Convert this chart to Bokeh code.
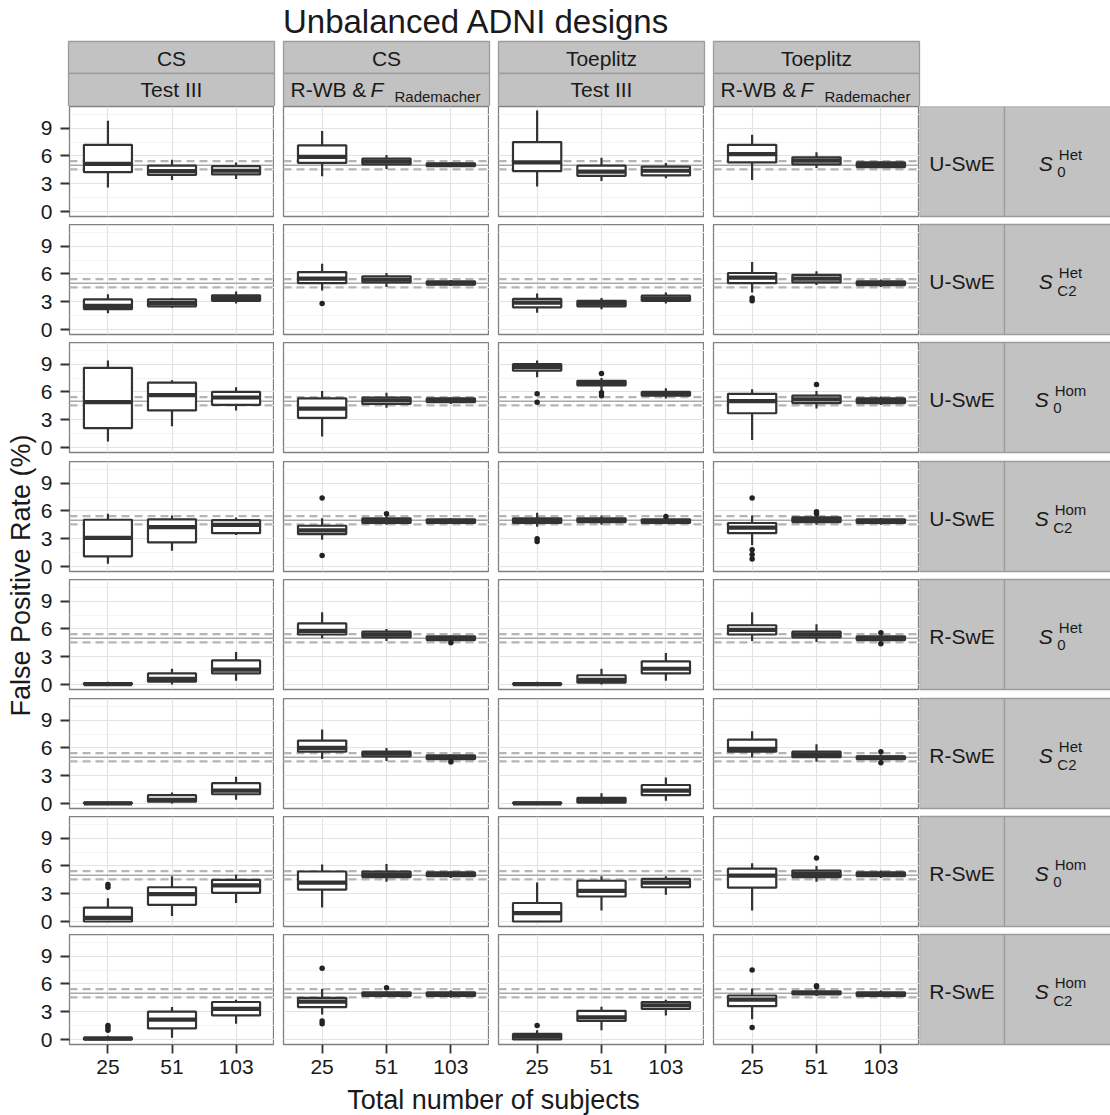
from bokeh.plotting import figure
from bokeh.layouts import row, column
from bokeh.models import (Range1d, FactorRange, ColumnDataSource, Grid, FixedTicker,
                          CategoricalTicker, LinearAxis, CategoricalAxis, Span)
from bokeh.transform import dodge
from bokeh.core.properties import value
from bokeh.embed import file_html
from bokeh.resources import INLINE

# ---------------------------------------------------------------- data
SUBJECTS = ["25", "51", "103"]
COVARIANCE = ["CS", "CS", "Toeplitz", "Toeplitz"]
TEST_MAIN = ["Test III", "R-WB & ", "Test III", "R-WB & "]
TEST_ITALIC = ["", "F", "", "F"]
TEST_SUB = ["", "Rademacher", "", "Rademacher"]
ESTIMATOR = ["U-SwE"] * 4 + ["R-SwE"] * 4
DESIGN_SUB = ["0", "C2", "0", "C2"] * 2
DESIGN_SUP = ["Het", "Het", "Hom", "Hom"] * 2

# one line per facet row; 12 values = 4 facet columns x (25, 51, 103 subjects)
LOWER = [
    [2.6, 3.4, 3.5,   3.8, 4.6, 4.8,   2.7, 3.3, 3.6,   3.4, 4.7, 4.7],
    [1.75, 2.35, 2.8, 4.2, 4.6, 4.7,   1.8, 2.2, 2.8,   4.0, 4.8, 4.6],
    [0.65, 2.3, 4.0,  1.2, 4.3, 4.7,   7.6, 6.1, 5.3,   0.8, 4.2, 4.6],
    [0.3, 1.7, 3.4,   2.9, 4.5, 4.6,   4.3, 4.5, 4.6,   2.3, 4.5, 4.5],
    [0.0, 0.0, 0.4,   5.0, 4.7, 4.7,   0.0, 0.0, 0.4,   4.7, 4.6, 4.6],
    [0.0, 0.0, 0.4,   4.8, 4.6, 4.6,   0.0, 0.0, 0.3,   5.0, 4.5, 4.6],
    [0.0, 0.6, 2.0,   1.5, 4.3, 4.7,   0.0, 1.2, 2.9,   1.2, 4.3, 4.7],
    [0.0, 0.2, 1.7,   2.7, 4.6, 4.5,   0.0, 1.0, 2.6,   2.2, 4.7, 4.6],
]
Q1 = [
    [4.25, 3.95, 4.0, 5.25, 5.1, 4.9,  4.35, 3.85, 3.9, 5.3, 5.1, 4.8],
    [2.2, 2.5, 3.1,   5.0, 5.1, 4.85,  2.4, 2.5, 3.1,   5.0, 5.1, 4.8],
    [2.1, 4.0, 4.6,   3.2, 4.7, 4.9,   8.3, 6.7, 5.6,   3.7, 4.8, 4.8],
    [1.1, 2.6, 3.6,   3.5, 4.7, 4.7,   4.7, 4.8, 4.7,   3.6, 4.8, 4.7],
    [0.0, 0.3, 1.2,   5.4, 5.1, 4.8,   0.0, 0.2, 1.2,   5.4, 5.1, 4.8],
    [0.0, 0.2, 1.0,   5.6, 5.1, 4.8,   0.0, 0.1, 0.9,   5.6, 5.0, 4.8],
    [0.0, 1.8, 3.1,   3.45, 4.8, 4.9,  0.0, 2.7, 3.7,   3.65, 4.8, 4.9],
    [0.0, 1.2, 2.6,   3.5, 4.7, 4.7,   0.0, 2.0, 3.3,   3.6, 4.9, 4.7],
]
MEDIAN = [
    [5.15, 4.35, 4.4, 5.9, 5.4, 5.05,  5.3, 4.3, 4.4,   6.2, 5.5, 5.05],
    [2.55, 2.85, 3.4, 5.5, 5.4, 5.0,   2.9, 2.8, 3.35,  5.6, 5.5, 5.0],
    [4.9, 5.65, 5.4,  4.2, 5.1, 5.1,   8.7, 6.9, 5.8,   5.0, 5.2, 5.1],
    [3.1, 4.25, 4.5,  3.9, 4.95, 4.9,  5.0, 5.0, 4.9,   4.2, 5.1, 4.9],
    [0.05, 0.6, 1.6,  5.8, 5.4, 5.0,   0.03, 0.5, 1.7,  5.9, 5.4, 5.0],
    [0.02, 0.4, 1.4,  6.0, 5.4, 5.0,   0.02, 0.3, 1.4,  5.9, 5.3, 4.95],
    [0.4, 2.95, 3.9,  4.2, 5.1, 5.1,   0.9, 3.3, 4.2,   4.95, 5.15, 5.1],
    [0.1, 2.15, 3.3,  4.1, 4.9, 4.9,   0.3, 2.4, 3.7,   4.3, 5.0, 4.9],
]
Q3 = [
    [7.2, 4.95, 4.9,  7.15, 5.7, 5.2,  7.5, 4.95, 4.85, 7.2, 5.85, 5.3],
    [3.25, 3.25, 3.7, 6.2, 5.75, 5.2,  3.3, 3.1, 3.65,  6.1, 5.9, 5.2],
    [8.6, 7.0, 6.0,   5.3, 5.4, 5.3,   9.0, 7.2, 6.0,   5.8, 5.6, 5.3],
    [5.05, 5.1, 5.0,  4.4, 5.2, 5.1,   5.2, 5.2, 5.1,   4.7, 5.3, 5.1],
    [0.15, 1.2, 2.6,  6.6, 5.7, 5.2,   0.1, 1.0, 2.5,   6.4, 5.7, 5.2],
    [0.1, 0.9, 2.2,   6.8, 5.6, 5.2,   0.1, 0.6, 2.0,   6.9, 5.6, 5.1],
    [1.5, 3.7, 4.5,   5.4, 5.4, 5.3,   2.0, 4.4, 4.6,   5.7, 5.5, 5.3],
    [0.2, 3.0, 4.05,  4.5, 5.1, 5.1,   0.6, 3.1, 4.05,  4.75, 5.2, 5.1],
]
UPPER = [
    [9.8, 5.6, 5.3,   8.7, 6.1, 5.3,   10.9, 5.8, 5.25, 8.3, 6.4, 5.4],
    [3.8, 3.4, 4.1,   7.1, 6.1, 5.35,  3.9, 3.4, 4.0,   7.3, 6.3, 5.4],
    [9.4, 7.25, 6.5,  6.1, 5.9, 5.4,   9.4, 7.5, 6.4,   6.3, 6.1, 5.5],
    [5.7, 5.5, 5.3,   5.2, 5.5, 5.2,   5.8, 5.5, 5.2,   5.5, 5.6, 5.2],
    [0.3, 1.7, 3.5,   7.8, 6.0, 5.3,   0.3, 1.7, 3.4,   7.8, 6.5, 5.3],
    [0.2, 1.2, 2.9,   8.0, 6.0, 5.3,   0.2, 1.1, 2.8,   7.8, 6.4, 5.3],
    [2.5, 4.9, 5.05,  6.15, 6.2, 5.4,  4.2, 4.9, 4.9,   6.3, 6.0, 5.5],
    [0.4, 3.5, 4.3,   5.45, 5.2, 5.3,  1.0, 3.55, 4.3,  5.5, 5.4, 5.3],
]

# outlying simulations: facet row, facet column, number of subjects, rate (%)
OUTLIER_ROW = [1, 1, 1, 2, 2, 2, 2, 2, 2, 3, 3, 3, 3, 3, 3, 3, 3, 3, 3,
               4, 4, 4, 5, 5, 5, 6, 6, 7, 7, 7, 7, 7, 7, 7, 7, 7, 7,
               3, 3, 6, 7, 7]
OUTLIER_COL = [1, 3, 3, 2, 2, 2, 2, 2, 3, 1, 1, 1, 2, 2, 2, 3, 3, 3, 3,
               1, 3, 3, 1, 3, 3, 0, 0, 0, 0, 0, 1, 1, 1, 1, 2, 3, 3,
               3, 3, 3, 3, 3]
OUTLIER_N = ["25", "25", "25", "25", "25", "51", "51", "51", "51", "25", "25", "51",
             "25", "25", "103", "25", "25", "25", "25",
             "103", "103", "103", "103", "103", "103", "25", "25",
             "25", "25", "25", "25", "25", "25", "51", "25", "25", "25",
             "51", "51", "51", "51", "51"]
OUTLIER_VALUE = [2.8, 3.1, 3.4, 5.8, 4.9, 8.0, 5.9, 5.6, 6.8, 7.4, 1.2, 5.7,
                 3.0, 2.7, 5.4, 7.4, 1.8, 1.3, 0.8,
                 4.5, 5.6, 4.4, 4.5, 5.6, 4.4, 4.0, 3.7,
                 1.5, 1.3, 1.0, 7.7, 2.0, 1.7, 5.6, 1.5, 7.5, 1.3,
                 5.9, 5.7, 6.85, 5.8, 5.7]

NOMINAL = 5.0
INTERVAL = (4.55, 5.45)
Y_TICKS = [0, 3, 6, 9]

# ---------------------------------------------------------------- styling
FONT = "Liberation Sans"
INK = "#1a1a1a"
BOX_INK = "#333333"
STRIP_FILL = "#c2c2c2"
STRIP_LINE = "#9c9c9c"
PANEL_LINE = "#808080"

NROW, NCOL = 8, 4
PW, PH = 206, 110
COL_GAP = 9
ROW_GAPS = [8, 8, 9, 8, 9, 8, 8]
HEADER_H = 106
YLAB_W = 37
LEFT_AXIS_W = 31
X_AXIS_H = 39
BODY_H = sum(ROW_GAPS) + NROW * PH + X_AXIS_H
FOOTER_H = 1115 - HEADER_H - BODY_H
STRIP_W1 = 85
TOTAL_W = 1110
STRIP_FIG_W = TOTAL_W - (YLAB_W + LEFT_AXIS_W + NCOL * PW + (NCOL - 1) * COL_GAP)

row_tops = [0]
for g in ROW_GAPS:
    row_tops.append(row_tops[-1] + PH + g)
col_lefts = [YLAB_W + LEFT_AXIS_W + c * (PW + COL_GAP) for c in range(NCOL)]


def drop_default_grids(p):
    p.center = [m for m in p.center if not isinstance(m, Grid)]


def blank(width, height):
    p = figure(width=width, height=height, x_range=Range1d(0, width),
               y_range=Range1d(height, 0), x_axis_location=None,
               y_axis_location=None, toolbar_location=None,
               output_backend="svg", title=None,
               min_border_left=0, min_border_right=0,
               min_border_top=0, min_border_bottom=0)
    drop_default_grids(p)
    p.outline_line_color = None
    p.background_fill_color = "white"
    p.border_fill_color = "white"
    return p


def label(p, x, y, txt, size, align="center", style="normal", angle=0.0):
    # y is the vertical middle of the text
    p.text(x=[x], y=[y], text=[txt], text_font=value(FONT), text_font_size=size,
           text_font_style=style, text_align=align, text_baseline="middle",
           text_color=INK, angle=angle)


def panel(r, c):
    left = LEFT_AXIS_W if c == 0 else COL_GAP
    bottom = X_AXIS_H if r == NROW - 1 else ROW_GAPS[r]
    xr = FactorRange(factors=SUBJECTS, range_padding=0.1, range_padding_units="absolute")
    p = figure(width=left + PW, height=PH + bottom, x_range=xr,
               y_range=Range1d(-0.54, 11.34), x_axis_location=None,
               y_axis_location=None, toolbar_location=None, output_backend="svg",
               title=None, min_border_left=left, min_border_right=0,
               min_border_top=0, min_border_bottom=bottom)
    drop_default_grids(p)
    p.background_fill_color = "white"
    p.border_fill_color = "white"
    p.outline_line_color = PANEL_LINE
    p.outline_line_width = 1.3

    p.add_layout(Grid(dimension=1,
                      ticker=FixedTicker(ticks=Y_TICKS, minor_ticks=[1.5, 4.5, 7.5, 10.5]),
                      grid_line_color="#e3e3e3", grid_line_width=1.2,
                      minor_grid_line_color="#f4f4f4", minor_grid_line_width=1.2))
    p.add_layout(Grid(dimension=0, ticker=CategoricalTicker(),
                      grid_line_color="#e3e3e3", grid_line_width=1.2))

    p.add_layout(Span(location=NOMINAL, dimension="width", line_color="#a9a9a9",
                      line_width=1.6, level="underlay"))
    for loc in INTERVAL:
        p.add_layout(Span(location=loc, dimension="width", line_color="#b5b5b5",
                          line_width=2.2, line_dash="8 5", level="underlay"))

    sl = slice(3 * c, 3 * c + 3)
    src = ColumnDataSource(dict(n=SUBJECTS, low=LOWER[r][sl], q1=Q1[r][sl],
                                med=MEDIAN[r][sl], q3=Q3[r][sl], up=UPPER[r][sl]))
    p.segment(x0="n", y0="q3", x1="n", y1="up", source=src,
              line_color=BOX_INK, line_width=2.2)
    p.segment(x0="n", y0="low", x1="n", y1="q1", source=src,
              line_color=BOX_INK, line_width=2.2)
    p.vbar(x="n", width=0.75, bottom="q1", top="q3", source=src,
           fill_color="white", line_color=BOX_INK, line_width=2.2)
    p.segment(x0=dodge("n", -0.375, range=xr), y0="med",
              x1=dodge("n", 0.375, range=xr), y1="med", source=src,
              line_color=BOX_INK, line_width=4.2)

    idx = [i for i in range(len(OUTLIER_ROW)) if OUTLIER_ROW[i] == r and OUTLIER_COL[i] == c]
    if idx:
        osrc = ColumnDataSource(dict(n=[OUTLIER_N[i] for i in idx],
                                     v=[OUTLIER_VALUE[i] for i in idx]))
        p.scatter(x="n", y="v", source=osrc, size=5.5, fill_color="#222222",
                  line_color=None)

    if c == 0:
        ax = LinearAxis(ticker=FixedTicker(ticks=Y_TICKS), axis_line_color=None,
                        major_tick_in=0, major_tick_out=9,
                        major_tick_line_color=BOX_INK, major_tick_line_width=1.8,
                        minor_tick_line_color=None,
                        major_label_text_font=FONT, major_label_text_font_size="21px",
                        major_label_text_color=INK, major_label_standoff=8)
        p.add_layout(ax, "left")
    if r == NROW - 1:
        ax = CategoricalAxis(axis_line_color=None, major_tick_in=0, major_tick_out=9,
                             major_tick_line_color=BOX_INK, major_tick_line_width=1.8,
                             minor_tick_line_color=None,
                             major_label_text_font=FONT, major_label_text_font_size="21px",
                             major_label_text_color=INK, major_label_standoff=6)
        p.add_layout(ax, "below")
    return p


# ---------------------------------------------------------------- header
hdr = blank(TOTAL_W, HEADER_H)
label(hdr, 476, 21, "Unbalanced ADNI designs", "33px")
for c in range(NCOL):
    x0 = col_lefts[c]
    cx = x0 + PW / 2
    hdr.quad(left=[x0, x0], right=[x0 + PW, x0 + PW], top=[41, 73], bottom=[73, 106],
             fill_color=STRIP_FILL, line_color=STRIP_LINE, line_width=1.3)
    label(hdr, cx, 57.5, COVARIANCE[c], "21px")
    if TEST_SUB[c]:
        label(hdr, cx - 96, 89, TEST_MAIN[c], "21px", align="left")
        label(hdr, cx - 16, 89, TEST_ITALIC[c], "21px", align="left", style="italic")
        label(hdr, cx + 8, 95.5, TEST_SUB[c], "15px", align="left")
    else:
        label(hdr, cx, 89, TEST_MAIN[c], "21px")

# ---------------------------------------------------------------- y label
ylab = blank(YLAB_W, BODY_H)
label(ylab, 20.5, (row_tops[-1] + PH) / 2, "False Positive Rate (%)", "27px",
      angle=1.5707963)

# ---------------------------------------------------------------- row strips
SUB_W = {"0": 8.3, "C2": 19.2}
SUP_W = {"Het": 23.3, "Hom": 31.7}
strips = blank(STRIP_FIG_W, BODY_H)
for r in range(NROW):
    t = row_tops[r]
    cy = t + PH / 2
    strips.quad(left=[0, STRIP_W1], right=[STRIP_W1, STRIP_FIG_W + 10],
                top=[t, t], bottom=[t + PH, t + PH],
                fill_color=STRIP_FILL, line_color=STRIP_LINE, line_width=1.3)
    label(strips, STRIP_W1 / 2, cy + 1.5, ESTIMATOR[r], "21px")
    width = 20 + max(SUB_W[DESIGN_SUB[r]], SUP_W[DESIGN_SUP[r]])
    sx = STRIP_W1 + 56 - width / 2
    label(strips, sx, cy + 2, "S", "21px", align="left", style="italic")
    label(strips, sx + 18.5, cy + 10.5, DESIGN_SUB[r], "15px", align="left")
    label(strips, sx + 20, cy - 7.5, DESIGN_SUP[r], "15px", align="left")

# ---------------------------------------------------------------- footer
ftr = blank(TOTAL_W, FOOTER_H)
label(ftr, 493, FOOTER_H / 2, "Total number of subjects", "27px")

cols = [column(*[panel(r, c) for r in range(NROW)]) for c in range(NCOL)]
body = row(ylab, *cols, strips)
page = column(hdr, body, ftr)

open("out.html", "w").write(file_html(page, INLINE))
